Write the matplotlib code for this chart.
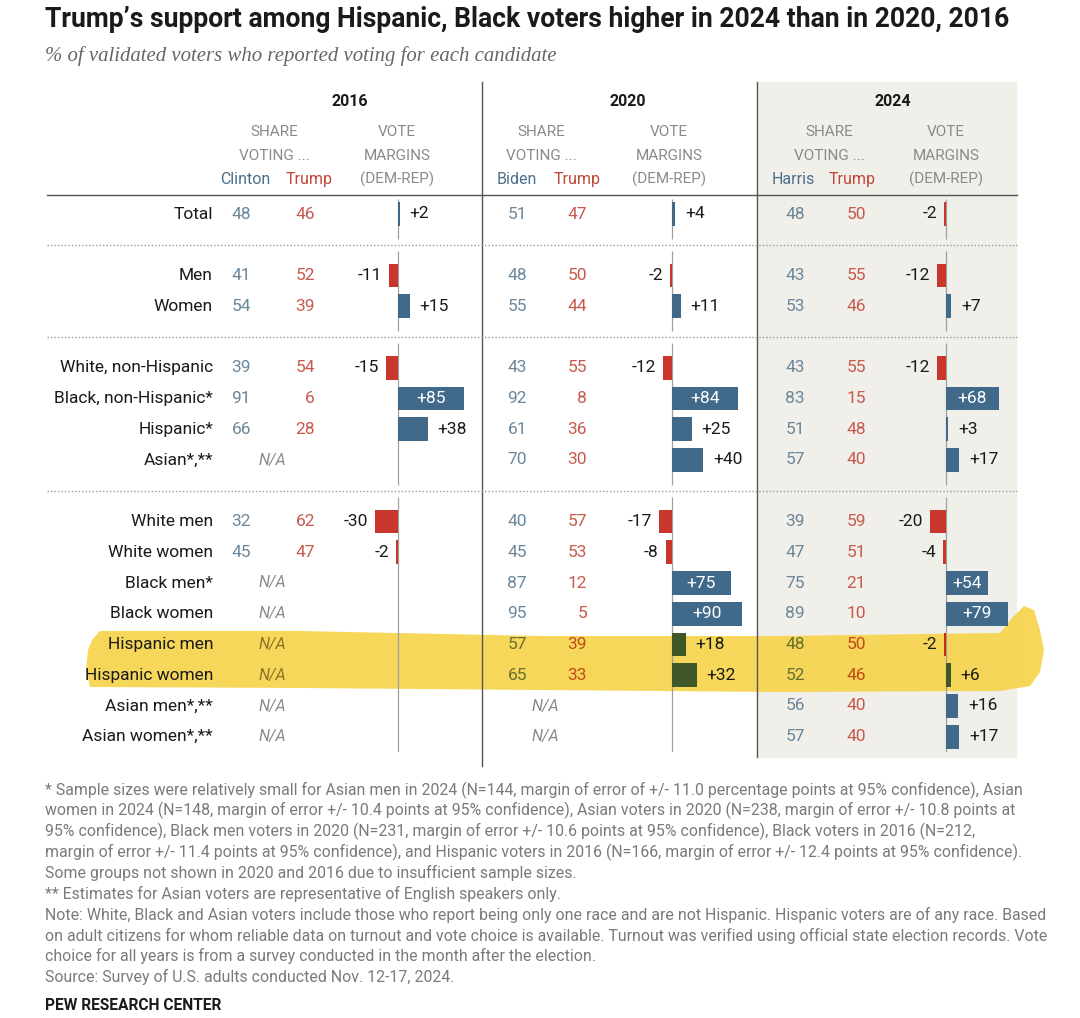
import matplotlib
matplotlib.use("Agg")
import matplotlib.pyplot as plt
from matplotlib.colors import to_rgb
from matplotlib.patches import Polygon, Rectangle

# data
groups = ["Total", "Men", "Women", "White, non-Hispanic", "Black, non-Hispanic*",
          "Hispanic*", "Asian*,**", "White men", "White women", "Black men*",
          "Black women", "Hispanic men", "Hispanic women", "Asian men*,**",
          "Asian women*,**"]
row_idx = [0, 2, 3, 5, 6, 7, 8, 10, 11, 12, 13, 14, 15, 16, 17]
highlighted = ["Hispanic men", "Hispanic women"]

years = ["2016", "2020", "2024"]
dem_names = ["Clinton", "Biden", "Harris"]

dem_2016 = [48, 41, 54, 39, 91, 66, None, 32, 45, None, None, None, None, None, None]
rep_2016 = [46, 52, 39, 54, 6, 28, None, 62, 47, None, None, None, None, None, None]
margin_2016 = [2, -11, 15, -15, 85, 38, None, -30, -2, None, None, None, None, None, None]

dem_2020 = [51, 48, 55, 43, 92, 61, 70, 40, 45, 87, 95, 57, 65, None, None]
rep_2020 = [47, 50, 44, 55, 8, 36, 30, 57, 53, 12, 5, 39, 33, None, None]
margin_2020 = [4, -2, 11, -12, 84, 25, 40, -17, -8, 75, 90, 18, 32, None, None]

dem_2024 = [48, 43, 53, 43, 83, 51, 57, 39, 47, 75, 89, 48, 52, 56, 57]
rep_2024 = [50, 55, 46, 55, 15, 48, 40, 59, 51, 21, 10, 50, 46, 40, 40]
margin_2024 = [-2, -12, 7, -12, 68, 3, 17, -20, -4, 54, 79, -2, 6, 16, 17]

dem_vals = [dem_2016, dem_2020, dem_2024]
rep_vals = [rep_2016, rep_2020, rep_2024]
margins = [margin_2016, margin_2020, margin_2024]

footnotes = [
    "* Sample sizes were relatively small for Asian men in 2024 (N=144, margin of error of +/- 11.0 percentage points at 95% confidence), Asian",
    "women in 2024 (N=148, margin of error +/- 10.4 points at 95% confidence), Asian voters in 2020 (N=238, margin of error +/- 10.8 points at",
    "95% confidence), Black men voters in 2020 (N=231, margin of error +/- 10.6 points at 95% confidence), Black voters in 2016 (N=212,",
    "margin of error +/- 11.4 points at 95% confidence), and Hispanic voters in 2016 (N=166, margin of error +/- 12.4 points at 95% confidence).",
    "Some groups not shown in 2020 and 2016 due to insufficient sample sizes.",
    "** Estimates for Asian voters are representative of English speakers only.",
    "Note: White, Black and Asian voters include those who report being only one race and are not Hispanic. Hispanic voters are of any race. Based",
    "on adult citizens for whom reliable data on turnout and vote choice is available. Turnout was verified using official state election records. Vote",
    "choice for all years is from a survey conducted in the month after the election.",
    "Source: Survey of U.S. adults conducted Nov. 12-17, 2024.",
]

# colours
BLUE = "#41698a"
RED = "#c9372c"
DEM_TXT = "#6b879b"
REP_TXT = "#c75a4e"
DEM_HEAD = "#4b6f8b"
REP_HEAD = "#c0463a"
GREY = "#8a8a8a"
HL = "#f7d44c"
SHADE = "#f0efe9"

FONT = ["Roboto", "DejaVu Sans"]
plt.rcParams["font.family"] = FONT

W, H = 1080, 1018
Y0, ROW = 214, 30.75      # pixel y of first row, row pitch
SCALE = 0.78              # pixels per margin point
TOP, BOT = 199, 752       # vertical extent of table body

# per year column layout (pixels)
dem_right = [251, 527, 805]
rep_right = [315, 587, 866]
dem_head_x = [245, 517, 793]
rep_head_x = [309, 577, 852]
share_x = [274, 541, 829]
vote_x = [397, 669, 946]
year_x = [350, 628, 893]
zero_x = [398, 672, 946]
bar_span = [(322, 480), (598, 755), (872, 1015)]
na_x = [272, 545, 829]


def y_of(i):
    return Y0 + i * ROW


def mult(c):
    a = to_rgb(c)
    b = to_rgb(HL)
    return (a[0] * b[0], a[1] * b[1], a[2] * b[2])


def fit_width(t, px):
    # shrink/grow a text so it spans px pixels
    r = fig.canvas.get_renderer()
    w = t.get_window_extent(renderer=r).width
    t.set_fontsize(t.get_fontsize() * px / w)


fig = plt.figure(figsize=(W / 100, H / 100), dpi=100)
fig.patch.set_facecolor("white")
ax = fig.add_axes([0, 0, 1, 1])
ax.set_xlim(0, W)
ax.set_ylim(H, 0)
ax.axis("off")

# title + subtitle
title = ax.text(45, 19, "Trump\u2019s support among Hispanic, Black voters higher in 2024 than in 2020, 2016",
                fontweight="bold", fontsize=20, color="#1a1a1a", va="center")
fit_width(title, 963)
sub = ax.text(45, 56, "% of validated voters who reported voting for each candidate",
              family=["Liberation Serif", "DejaVu Serif"], style="italic", fontsize=14,
              color="#666666", va="center")
fit_width(sub, 512)

# 2024 shading, separators, rules
ax.add_patch(Rectangle((757, 82), 1016 - 757, 757 - 82, color=SHADE, zorder=0))
ax.plot([482, 482], [82, 766], color="#555555", lw=1, zorder=2)
ax.plot([757, 757], [82, 757], color="#555555", lw=1, zorder=2)
ax.plot([47, 1017], [195, 195], color="#555555", lw=1, zorder=2)
for d in [1, 4, 9]:
    ax.plot([47, 1017], [y_of(d), y_of(d)], color="#9a9a9a", lw=1,
            linestyle=(0, (1, 1.5)), zorder=2)

# highlighter stroke over the Hispanic men/women rows
hl_pts = [(92, 640), (100, 631), (300, 631), (540, 636), (780, 636), (1000, 633),
          (1012, 618), (1024, 606), (1034, 610), (1040, 630), (1044, 650),
          (1040, 672), (1030, 686), (1000, 691), (780, 692), (540, 690), (300, 688),
          (90, 687), (86, 670), (88, 650)]
ax.add_patch(Polygon(hl_pts, closed=True, color=HL, lw=0, alpha=0.92, zorder=1))

# column headers
for k in range(3):
    ax.text(year_x[k], 101, years[k], fontsize=11.5, fontweight="bold",
            color="#1a1a1a", ha="center", va="center", zorder=3)
    ax.text(share_x[k], 132, "SHARE", fontsize=11, color=GREY, ha="center", va="center")
    ax.text(share_x[k], 156, "VOTING ...", fontsize=11, color=GREY, ha="center", va="center")
    ax.text(vote_x[k], 132, "VOTE", fontsize=11, color=GREY, ha="center", va="center")
    ax.text(vote_x[k], 156, "MARGINS", fontsize=11, color=GREY, ha="center", va="center")
    ax.text(vote_x[k], 179, "(DEM-REP)", fontsize=11, color=GREY, ha="center", va="center")
    ax.text(dem_head_x[k], 179, dem_names[k], fontsize=11.5, color=DEM_HEAD, ha="center", va="center")
    ax.text(rep_head_x[k], 179, "Trump", fontsize=11.5, color=REP_HEAD, ha="center", va="center")

# rows
for j, g in enumerate(groups):
    y = y_of(row_idx[j])
    hl = g in highlighted
    ax.text(213, y, g, fontsize=12.5, color="#1a1a1a", ha="right", va="center", zorder=3)
    for k in range(3):
        d = dem_vals[k][j]
        r = rep_vals[k][j]
        if d is None:
            ax.text(na_x[k], y, "N/A", fontsize=11.5, style="italic",
                    color=mult(GREY) if hl else GREY, ha="center", va="center", zorder=3)
            continue
        ax.text(dem_right[k], y, str(d), fontsize=12.5,
                color=mult(DEM_TXT) if hl else DEM_TXT, ha="right", va="center", zorder=3)
        ax.text(rep_right[k], y, str(r), fontsize=12.5,
                color=mult(REP_TXT) if hl else REP_TXT, ha="right", va="center", zorder=3)

# margin bars, one small axes per year
y_top = (TOP - Y0) / ROW
y_bot = (BOT - Y0) / ROW
segments = [(y_top, 0.8), (1.2, 3.8), (4.2, 8.8), (9.2, y_bot)]
for k in range(3):
    x0, x1 = bar_span[k]
    bax = fig.add_axes([x0 / W, 1 - BOT / H, (x1 - x0) / W, (BOT - TOP) / H])
    bax.set_xlim((x0 - zero_x[k]) / SCALE, (x1 - zero_x[k]) / SCALE)
    bax.set_ylim(y_bot, y_top)
    bax.axis("off")
    for s0, s1 in segments:
        bax.vlines(0, s0, s1, color="#a0a0a0", lw=0.9, zorder=1)
    for j, m in enumerate(margins[k]):
        if m is None:
            continue
        hl = groups[j] in highlighted
        c = BLUE if m > 0 else RED
        if hl:
            c = mult(c)
        yi = row_idx[j]
        bax.barh(yi, m, height=0.78, color=c, zorder=2)
        lab = "+%d" % m if m > 0 else "%d" % m
        if abs(m) >= 50:
            bax.text(m / 2, yi, lab, fontsize=12.5, color="white", ha="center",
                     va="center", zorder=3)
        elif m > 0:
            bax.annotate(lab, xy=(m, yi), xytext=(7, 0), textcoords="offset points",
                         fontsize=12.5, color="#1a1a1a", ha="left", va="center",
                         annotation_clip=False, zorder=3)
        else:
            bax.annotate(lab, xy=(m, yi), xytext=(-5, 0), textcoords="offset points",
                         fontsize=12.5, color="#1a1a1a", ha="right", va="center",
                         annotation_clip=False, zorder=3)

# footnotes
for i, line in enumerate(footnotes):
    ax.text(45, 790 + i * 20.8, line, fontsize=11.4, color="#7a7a7a", va="center")
ax.text(45, 1006, "PEW RESEARCH CENTER", fontsize=11.2, fontweight="bold",
        color="#1a1a1a", va="center")

fig.savefig("out.png", dpi=100, facecolor="white")
